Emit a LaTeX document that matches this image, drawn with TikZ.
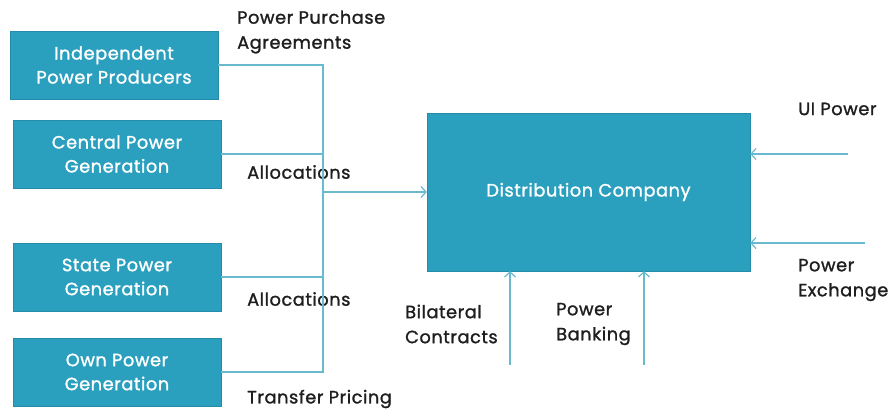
\documentclass[tikz,border=0pt]{standalone}
\usepackage{fontspec}
\setmainfont{Poppins}[LetterSpace=3,FakeBold=1.3]
\usetikzlibrary{arrows.meta}

\definecolor{boxteal}{RGB}{42,160,190}
\definecolor{boxedge}{RGB}{36,140,168}
\definecolor{linkteal}{RGB}{105,186,206}
\definecolor{lbltext}{RGB}{30,30,30}

\tikzset{
  srcbox/.style={draw=boxedge,fill=boxteal,text=white,minimum width=208pt,minimum height=68pt,
    inner sep=0pt,align=center,font=\fontsize{17.8}{24}\selectfont},
  lbl/.style={anchor=west,align=left,text=lbltext,inner sep=0pt,font=\fontsize{17.8}{25}\selectfont},
  feed/.style={draw=linkteal,line width=1.2pt},
  tip/.style={-{Straight Barb[length=5pt,width=11pt]}}
}

\begin{document}
\begin{tikzpicture}[x=1pt,y=1pt]
  \useasboundingbox (0,0) rectangle (893,-409);

  % generators
  \node[srcbox] (ipp) at (114,-65) {Independent\\Power Producers};
  \node[srcbox] (central) at (117,-154) {Central Power\\Generation};
  \node[srcbox] (state) at (117,-277) {State Power\\Generation};
  \node[srcbox] (own) at (117,-372) {Own Power\\Generation};

  % discom
  \node[srcbox,minimum width=323pt,minimum height=158pt] (disco) at (588.5,-192) {Distribution Company};

  % labels
  \node[lbl] (ppa) at (237,-32) {Power Purchase\\Agreements};
  \node[lbl] (alloca) at (247,-172) {Allocations};
  \node[lbl] (allocb) at (247,-299) {Allocations};
  \node[lbl] (transfer) at (247,-399) {Transfer Pricing};
  \node[lbl] (uipower) at (798,-109) {UI Power};
  \node[lbl] (exchange) at (798,-280) {Power\\Exchange};
  \node[lbl] (bilateral) at (405,-324) {Bilateral\\Contracts};
  \node[lbl] (banking) at (556,-324) {Power\\Banking};

  % bus
  \coordinate (bustop) at (323,-65);
  \coordinate (busbot) at (323,-372);
  \draw[feed] (ipp.east) -- (bustop) -- (busbot) -- (own.east);
  \draw[feed] (central.east) -- (central.east -| bustop);
  \draw[feed] (state.east) -- (state.east -| bustop);
  \draw[feed,tip] (disco.west -| bustop) -- (disco.west);

  % other sources
  \coordinate (uisrc) at (848,-154);
  \coordinate (pxsrc) at (865,-243);
  \coordinate (bcsrc) at (510,-365);
  \coordinate (pbsrc) at (644,-365);
  \draw[feed,tip] (uisrc) -- (uisrc -| disco.east);
  \draw[feed,tip] (pxsrc) -- (pxsrc -| disco.east);
  \draw[feed,tip] (bcsrc) -- (bcsrc |- disco.south);
  \draw[feed,tip] (pbsrc) -- (pbsrc |- disco.south);
\end{tikzpicture}
\end{document}
